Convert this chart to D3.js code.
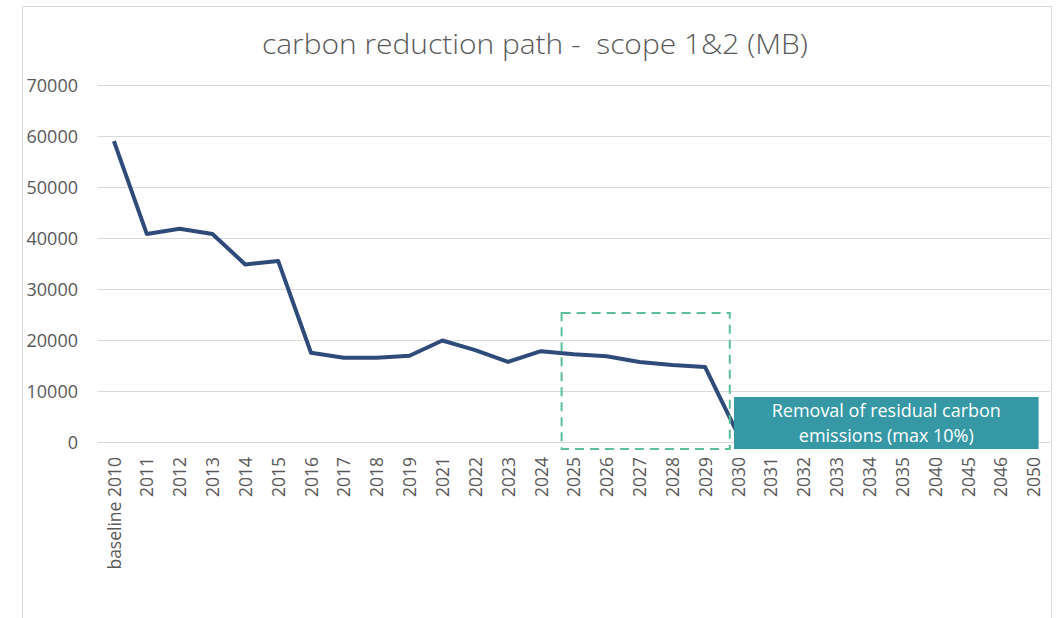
<!DOCTYPE html>
<html>
<head lang="en">
  <meta charset="UTF-8">
  <title>carbon reduction path - scope 1&2 (MB)</title>
</head>
<style>
  body { margin: 0; background: #fff; }
  #chart text { font-family: "Open Sans", sans-serif; fill: #595959; }
  #chart .grid line { stroke: #d9d9d9; stroke-width: 1; }
  #chart .path { fill: none; stroke: #2f4b7a; stroke-width: 4; stroke-linejoin: round; }
</style>
<body>

<svg id="chart" width="1061" height="618"></svg>

<script src="https://cdn.jsdelivr.net/npm/d3@7"></script>
<script>
  // Data
  var years = ['baseline 2010', '2011', '2012', '2013', '2014', '2015', '2016', '2017', '2018', '2019',
    '2021', '2022', '2023', '2024', '2025', '2026', '2027', '2028', '2029', '2030',
    '2031', '2032', '2033', '2034', '2035', '2040', '2045', '2046', '2050'];
  var emissions = [59000, 40800, 41800, 40800, 34800, 35500, 17500, 16500, 16500, 16900,
    19900, 18000, 15700, 17800, 17200, 16800, 15700, 15100, 14700, 1500,
    null, null, null, null, null, null, null, null, null];
  var yTicks = [0, 10000, 20000, 30000, 40000, 50000, 60000, 70000];
  var title = 'carbon reduction path -  scope 1&2 (MB)';
  var noteLines = ['Removal of residual carbon', 'emissions (max 10%)'];
  var focusYears = ['2025', '2029'];
  var focusTop = 25300;

  var svg = d3.select('#chart');

  // frame
  svg.append('rect')
    .attr('x', 22.5).attr('y', 6.5).attr('width', 1029).attr('height', 700)
    .attr('fill', 'none').attr('stroke', '#d9d9d9');

  var plot = { left: 97.5, right: 1050, top: 85, bottom: 442 };

  var x = d3.scalePoint()
    .domain(years)
    .range([plot.left, plot.right])
    .padding(0.5);

  var y = d3.scaleLinear()
    .domain([0, 70000])
    .range([plot.bottom, plot.top]);

  svg.append('text')
    .attr('x', 535).attr('y', 54)
    .attr('text-anchor', 'middle')
    .attr('textLength', 546).attr('lengthAdjust', 'spacingAndGlyphs')
    .style('white-space', 'pre')
    .style('font-size', '27px').style('font-weight', 300)
    .text(title);

  // gridlines
  svg.append('g').attr('class', 'grid')
    .selectAll('line')
    .data(yTicks)
    .enter()
      .append('line')
      .attr('x1', plot.left).attr('x2', plot.right)
      .attr('y1', function (d) { return Math.round(y(d)) + 0.5; })
      .attr('y2', function (d) { return Math.round(y(d)) + 0.5; });

  // y axis labels
  var yAxis = d3.axisLeft(y).tickValues(yTicks).tickSize(0).tickPadding(0).tickFormat(d3.format('d'));
  svg.append('g')
    .attr('transform', 'translate(78,0)')
    .call(yAxis)
    .call(function (g) { g.select('.domain').remove(); })
    .selectAll('text')
      .style('font-size', '18px').attr('dy', '0.35em');

  // x axis labels, rotated
  var xAxis = d3.axisBottom(x).tickSize(0).tickPadding(0);
  svg.append('g')
    .attr('transform', 'translate(0,' + plot.bottom + ')')
    .call(xAxis)
    .call(function (g) { g.select('.domain').remove(); })
    .selectAll('text')
      .style('font-size', '17.5px')
      .attr('text-anchor', 'end')
      .attr('transform', 'rotate(-90)')
      .attr('x', -15).attr('y', 0).attr('dy', '0.35em');

  // emissions line
  var line = d3.line()
    .defined(function (d) { return d != null; })
    .x(function (d, i) { return x(years[i]); })
    .y(function (d) { return y(d); });

  svg.append('path')
    .datum(emissions)
    .attr('class', 'path')
    .attr('d', line);

  // dashed focus box
  var step = x.step();
  var fx0 = x(focusYears[0]) - 0.37 * step;
  var fx1 = x(focusYears[1]) + 0.75 * step;
  svg.append('rect')
    .attr('x', fx0).attr('y', y(focusTop))
    .attr('width', fx1 - fx0).attr('height', y(0) + 7 - y(focusTop))
    .attr('fill', 'none')
    .attr('stroke', '#5cbf98').attr('stroke-width', 2)
    .attr('stroke-dasharray', '9,6');

  // annotation box
  var bx0 = x('2030') - 4;
  var bx1 = x('2050') + 5;
  var note = svg.append('g');
  note.append('rect')
    .attr('x', bx0).attr('y', 397)
    .attr('width', bx1 - bx0).attr('height', 52)
    .attr('fill', '#3598a4');
  note.selectAll('text')
    .data(noteLines)
    .enter()
      .append('text')
      .attr('x', (bx0 + bx1) / 2)
      .attr('y', function (d, i) { return 417 + i * 25; })
      .attr('text-anchor', 'middle')
      .style('font-size', '18px')
      .style('fill', '#fff')
      .text(function (d) { return d; });
</script>
</body>
</html>
